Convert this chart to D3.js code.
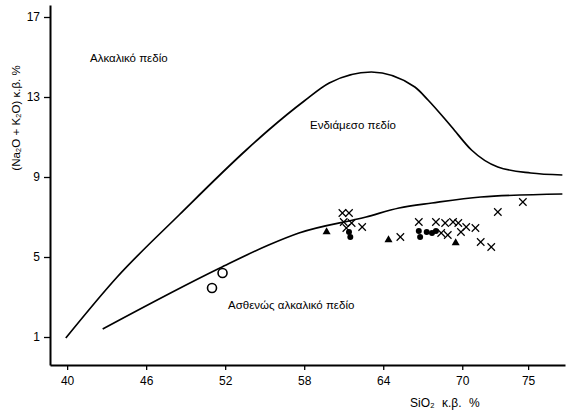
<!DOCTYPE html>
<html>
<head>
<meta charset="utf-8">
<script src="https://cdn.jsdelivr.net/npm/d3@7"></script>
<style>
  body { margin: 0; background: #fff; }
  svg { font-family: "Liberation Sans", "DejaVu Sans", sans-serif; }
</style>
</head>
<body>
<svg id="chart" width="572" height="416"></svg>
<script>
// boundary curves (SiO2, Na2O+K2O)
var upperSi = [39.9, 43.8, 48.5, 53.6, 55.3, 58.0, 59.9, 63.1, 66.4, 67.4, 69.2, 70.7, 72.7, 75.2, 77.6];
var upperAlk = [0.95, 4.0, 7.1, 10.35, 11.35, 12.8, 13.7, 14.25, 13.5, 12.85, 11.5, 10.35, 9.5, 9.2, 9.1];
var lowerSi = [42.7, 51.6, 55.3, 57.6, 62.7, 65.2, 67.7, 71.4, 77.6];
var lowerAlk = [1.4, 4.45, 5.6, 6.2, 7.0, 7.45, 7.7, 8.0, 8.15];

// samples
var crossSi = [60.9, 61.4, 61.0, 61.6, 62.4, 61.2, 65.3, 66.7, 68.0, 68.7, 69.3, 69.7, 70.3, 71.0, 69.9, 68.9, 68.4, 71.4, 72.2, 72.7, 74.6];
var crossAlk = [7.2, 7.2, 6.75, 6.7, 6.5, 6.45, 6.0, 6.75, 6.75, 6.7, 6.75, 6.7, 6.5, 6.45, 6.25, 6.1, 6.2, 5.75, 5.5, 7.25, 7.75];
var triSi = [59.7, 64.4, 69.5];
var triAlk = [6.25, 5.85, 5.7];
var dotSi = [61.4, 61.5, 66.7, 66.8, 67.3, 67.7, 68.0];
var dotAlk = [6.25, 6.0, 6.3, 6.0, 6.25, 6.2, 6.3];
var ringSi = [51.8, 51.0];
var ringAlk = [4.2, 3.45];

var xTicks = [40, 46, 52, 58, 64, 70, 75];
var yTicks = [1, 5, 9, 13, 17];

var svg = d3.select("#chart");

var x = d3.scaleLinear().domain([38.7, 77.8]).range([50, 565]);
var y = d3.scaleLinear().domain([-0.4, 17.6]).range([365, 5]);

function pairs(a, b) { return a.map(function(v, i) { return [v, b[i]]; }); }

// axes
var xAxis = svg.append("g")
  .attr("transform", "translate(0,365)")
  .call(d3.axisBottom(x).tickValues(xTicks).tickSize(5).tickSizeOuter(0).tickPadding(6));
var yAxis = svg.append("g")
  .attr("transform", "translate(50,0)")
  .call(d3.axisLeft(y).tickValues(yTicks).tickSize(6).tickSizeOuter(0).tickPadding(4));

[xAxis, yAxis].forEach(function(g) {
  g.select(".domain").attr("stroke", "#000").attr("stroke-width", 2);
  g.selectAll(".tick line").attr("stroke", "#000").attr("stroke-width", 1.3);
  g.selectAll(".tick text").attr("fill", "#000").style("font-size", "12px");
});

var line = d3.line()
  .x(function(d) { return x(d[0]); })
  .y(function(d) { return y(d[1]); })
  .curve(d3.curveMonotoneX);

svg.append("path")
  .attr("d", line(pairs(upperSi, upperAlk)))
  .attr("fill", "none").attr("stroke", "#000").attr("stroke-width", 1.7);
svg.append("path")
  .attr("d", line(pairs(lowerSi, lowerAlk)))
  .attr("fill", "none").attr("stroke", "#000").attr("stroke-width", 1.7);

// crosses
svg.selectAll(".cross")
  .data(pairs(crossSi, crossAlk))
  .enter().append("path")
    .attr("class", "cross")
    .attr("d", d3.symbol().type(d3.symbolTimes).size(38))
    .attr("transform", function(d) { return "translate(" + x(d[0]) + "," + y(d[1]) + ")"; })
    .attr("stroke", "#000").attr("stroke-width", 1.2).attr("fill", "none");

// triangles
svg.selectAll(".tri")
  .data(pairs(triSi, triAlk))
  .enter().append("path")
    .attr("d", d3.symbol().type(d3.symbolTriangle).size(28))
    .attr("transform", function(d) { return "translate(" + x(d[0]) + "," + y(d[1]) + ")"; })
    .attr("fill", "#000");

// filled dots
svg.selectAll(".dot")
  .data(pairs(dotSi, dotAlk))
  .enter().append("circle")
    .attr("cx", function(d) { return x(d[0]); })
    .attr("cy", function(d) { return y(d[1]); })
    .attr("r", 3)
    .attr("fill", "#000");

// open circles
svg.selectAll(".ring")
  .data(pairs(ringSi, ringAlk))
  .enter().append("circle")
    .attr("cx", function(d) { return x(d[0]); })
    .attr("cy", function(d) { return y(d[1]); })
    .attr("r", 4.5)
    .attr("fill", "none").attr("stroke", "#000").attr("stroke-width", 1.6);

// field names
svg.append("text").attr("x", 90).attr("y", 62)
  .style("font-size", "11.5px").text("Αλκαλικό πεδίο");
svg.append("text").attr("x", 310).attr("y", 129)
  .style("font-size", "11.5px").text("Ενδιάμεσο πεδίο");
svg.append("text").attr("x", 228).attr("y", 309)
  .style("font-size", "11.5px").text("Ασθενώς αλκαλικό πεδίο");

// axis titles
svg.append("text")
  .attr("transform", "translate(20,118) rotate(-90)")
  .style("text-anchor", "middle")
  .style("font-size", "11.5px")
  .text("(Na₂O + K₂O) κ.β. %");
svg.append("text")
  .attr("x", 410).attr("y", 407)
  .style("font-size", "12px")
  .style("word-spacing", "4px")
  .text("SiO₂ κ.β. %");
</script>
</body>
</html>
